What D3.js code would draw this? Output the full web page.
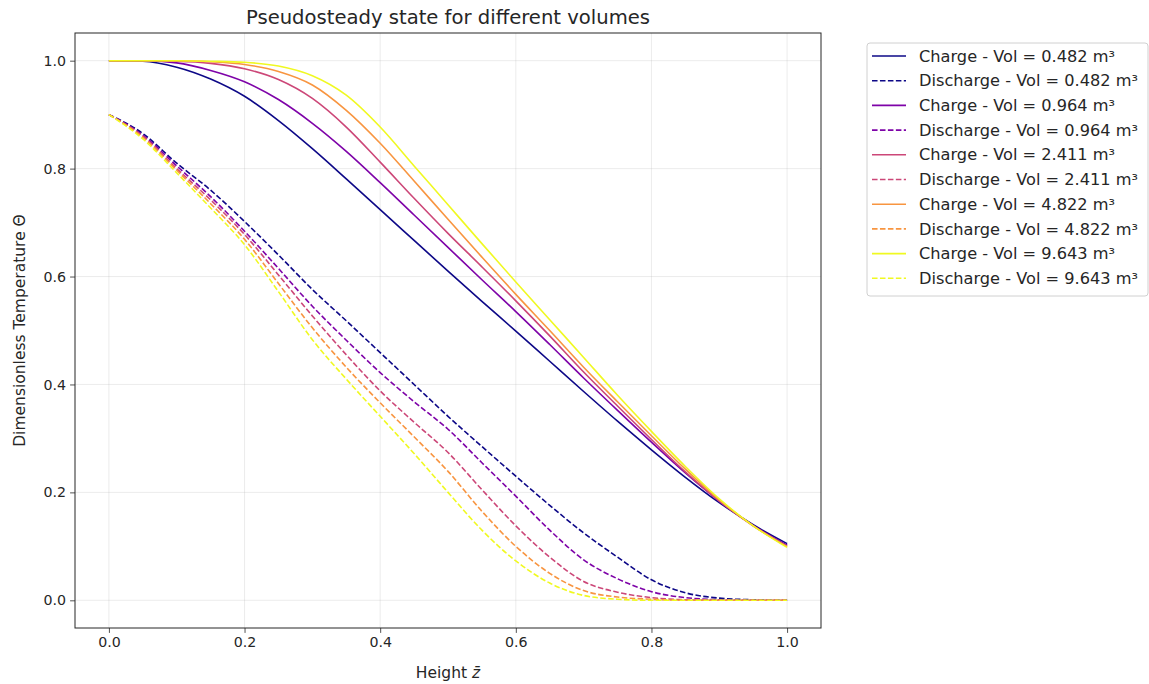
<!DOCTYPE html>
<html>
<head>
<meta charset="utf-8">
<script src="https://cdn.jsdelivr.net/npm/d3@7"></script>
<style>
  body { margin: 0; background: #fff; }
  svg text { font-family: "DejaVu Sans", sans-serif; fill: #262626; }
</style>
</head>
<body>
<div id="chart"></div>
<script>
// sample heights
const zBar = [0, 0.05, 0.1, 0.15, 0.2, 0.25, 0.3, 0.35, 0.4, 0.45, 0.5,
              0.55, 0.6, 0.65, 0.7, 0.75, 0.8, 0.85, 0.9, 0.95, 1.0];

const volumes = ["0.482", "0.964", "2.411", "4.822", "9.643"];
const colors = ["#0d0887", "#7e03a8", "#cc4778", "#f89540", "#f0f921"];

// charge profiles
const charge1 = [1.0, 0.999, 0.988, 0.966, 0.934, 0.889, 0.837, 0.781, 0.724, 0.667, 0.61,
                 0.554, 0.499, 0.443, 0.387, 0.332, 0.279, 0.228, 0.181, 0.14, 0.105];
const charge2 = [1.0, 1.0, 0.996, 0.982, 0.961, 0.928, 0.884, 0.832, 0.774, 0.714, 0.654,
                 0.594, 0.535, 0.474, 0.412, 0.352, 0.293, 0.236, 0.184, 0.139, 0.102];
const charge3 = [1.0, 1.0, 0.999, 0.995, 0.985, 0.965, 0.93, 0.877, 0.812, 0.745, 0.68,
                 0.618, 0.555, 0.49, 0.423, 0.36, 0.298, 0.238, 0.184, 0.138, 0.1];
const charge4 = [1.0, 1.0, 1.0, 0.998, 0.993, 0.98, 0.955, 0.908, 0.847, 0.777, 0.706,
                 0.636, 0.567, 0.5, 0.432, 0.368, 0.305, 0.243, 0.186, 0.138, 0.1];
const charge5 = [1.0, 1.0, 1.0, 0.999, 0.997, 0.99, 0.972, 0.936, 0.877, 0.805, 0.733,
                 0.661, 0.59, 0.52, 0.45, 0.38, 0.313, 0.248, 0.188, 0.138, 0.098];

// discharge profiles
const discharge1 = [0.9, 0.865, 0.81, 0.76, 0.702, 0.64, 0.576, 0.518, 0.459, 0.4, 0.341,
                    0.285, 0.23, 0.176, 0.125, 0.08, 0.038, 0.014, 0.004, 0.001, 0.0];
const discharge2 = [0.9, 0.862, 0.805, 0.748, 0.684, 0.615, 0.545, 0.482, 0.422, 0.368, 0.317,
                    0.255, 0.193, 0.13, 0.075, 0.04, 0.016, 0.005, 0.001, 0.0, 0.0];
const discharge3 = [0.9, 0.86, 0.8, 0.742, 0.678, 0.603, 0.527, 0.455, 0.388, 0.33, 0.274,
                    0.205, 0.138, 0.08, 0.035, 0.015, 0.005, 0.001, 0.0, 0.0, 0.0];
const discharge4 = [0.9, 0.858, 0.797, 0.735, 0.669, 0.587, 0.505, 0.432, 0.366, 0.303, 0.239,
                    0.165, 0.1, 0.05, 0.018, 0.006, 0.002, 0.0, 0.0, 0.0, 0.0];
const discharge5 = [0.9, 0.855, 0.792, 0.727, 0.659, 0.572, 0.483, 0.41, 0.341, 0.272, 0.2,
                    0.13, 0.073, 0.032, 0.009, 0.002, 0.0, 0.0, 0.0, 0.0, 0.0];

const chargeSets = [charge1, charge2, charge3, charge4, charge5];
const dischargeSets = [discharge1, discharge2, discharge3, discharge4, discharge5];

const xTicks = [0, 0.2, 0.4, 0.6, 0.8, 1.0];
const yTicks = [0, 0.2, 0.4, 0.6, 0.8, 1.0];

// Set up SVG dimensions
const W = 1149, H = 684;
const margin = {top: 33, right: 328, bottom: 56, left: 75};
const width = W - margin.left - margin.right;
const height = H - margin.top - margin.bottom;

const svg = d3.select("#chart").append("svg")
    .attr("width", W)
    .attr("height", H);

const g = svg.append("g")
    .attr("transform", `translate(${margin.left},${margin.top})`);

const xScale = d3.scaleLinear().domain([-0.05, 1.05]).range([0, width]);
const yScale = d3.scaleLinear().domain([-0.0513, 1.0513]).range([height, 0]);

// grid
g.append("g").selectAll("line").data(xTicks).join("line")
    .attr("x1", d => xScale(d)).attr("x2", d => xScale(d))
    .attr("y1", 0).attr("y2", height)
    .attr("stroke", "#b0b0b0").attr("stroke-opacity", 0.3).attr("stroke-width", 0.8);
g.append("g").selectAll("line").data(yTicks).join("line")
    .attr("x1", 0).attr("x2", width)
    .attr("y1", d => yScale(d)).attr("y2", d => yScale(d))
    .attr("stroke", "#b0b0b0").attr("stroke-opacity", 0.3).attr("stroke-width", 0.8);

// lines
const line = d3.line()
    .x((d, i) => xScale(zBar[i]))
    .y(d => yScale(d))
    .curve(d3.curveMonotoneX);

chargeSets.forEach((s, k) => {
    g.append("path").datum(s)
        .attr("d", line)
        .attr("fill", "none")
        .attr("stroke", colors[k])
        .attr("stroke-width", 1.6);
});
dischargeSets.forEach((s, k) => {
    g.append("path").datum(s)
        .attr("d", line)
        .attr("fill", "none")
        .attr("stroke", colors[k])
        .attr("stroke-width", 1.6)
        .attr("stroke-dasharray", "5.55,2.4");
});

// axes
const xAxis = g.append("g")
    .attr("transform", `translate(0,${height})`)
    .call(d3.axisBottom(xScale).tickValues(xTicks).tickFormat(d3.format(".1f")).tickSize(4.9).tickPadding(4));
const yAxis = g.append("g")
    .call(d3.axisLeft(yScale).tickValues(yTicks).tickFormat(d3.format(".1f")).tickSize(4.9).tickPadding(4));
[xAxis, yAxis].forEach(a => {
    a.select(".domain").remove();
    a.selectAll("text").style("font-size", "14.2px").attr("fill", "#262626");
    a.selectAll("line").attr("stroke", "#262626").attr("stroke-width", 0.8);
});

// frame
g.append("rect")
    .attr("width", width).attr("height", height)
    .attr("fill", "none").attr("stroke", "#262626").attr("stroke-width", 1);

// title and labels
svg.append("text")
    .attr("x", margin.left + width / 2).attr("y", 24)
    .attr("text-anchor", "middle")
    .style("font-size", "19.6px")
    .text("Pseudosteady state for different volumes");

const xl = svg.append("text")
    .attr("x", margin.left + width / 2).attr("y", 678)
    .attr("text-anchor", "middle")
    .style("font-size", "15.5px");
xl.append("tspan").text("Height ");
xl.append("tspan").style("font-style", "italic").text("z\u0304");

svg.append("text")
    .attr("transform", `translate(25,${margin.top + height / 2}) rotate(-90)`)
    .attr("text-anchor", "middle")
    .style("font-size", "15.5px")
    .text("Dimensionless Temperature \u0398");

// legend
const legendItems = [];
volumes.forEach((v, k) => {
    legendItems.push({label: `Charge - Vol = ${v} m\u00b3`, color: colors[k], dash: null});
    legendItems.push({label: `Discharge - Vol = ${v} m\u00b3`, color: colors[k], dash: "5.55,2.4"});
});

const lg = svg.append("g").attr("transform", "translate(867,43)");
lg.append("rect")
    .attr("width", 281).attr("height", 253)
    .attr("rx", 3)
    .attr("fill", "#fff").attr("stroke", "#d0d0d0").attr("stroke-width", 1);

const rows = lg.selectAll("g.row").data(legendItems).join("g")
    .attr("class", "row")
    .attr("transform", (d, i) => `translate(0,${13 + i * 24.7})`);
rows.append("line")
    .attr("x1", 5).attr("x2", 39)
    .attr("stroke", d => d.color).attr("stroke-width", 1.6)
    .attr("stroke-dasharray", d => d.dash);
rows.append("text")
    .attr("x", 52).attr("dy", "0.35em")
    .style("font-size", "16.2px")
    .text(d => d.label);
</script>
</body>
</html>
